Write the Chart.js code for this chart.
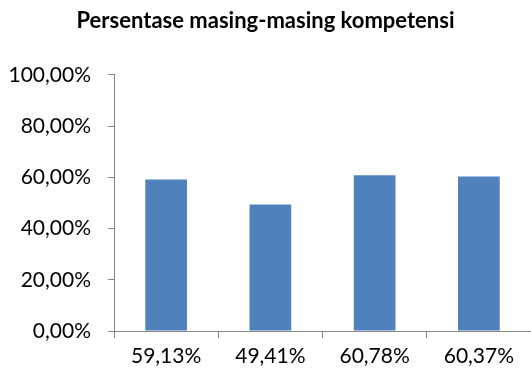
<!DOCTYPE html>
<html>
<head>
<meta charset="utf-8">
<script src="https://cdn.jsdelivr.net/npm/chart.js@4/dist/chart.umd.min.js"></script>
<style>
  html, body { margin: 0; padding: 0; background: #fff; }
  #chart { display: block; }
</style>
</head>
<body>
<canvas id="chart" width="531" height="372"></canvas>
<script>
// chart data
const categories = ['59,13%', '49,41%', '60,78%', '60,37%'];
const values = [59.13, 49.41, 60.78, 60.37];
const yTicks = [0, 20, 40, 60, 80, 100];

const axisColor = '#868686';
const textFont = { family: 'Lato, Liberation Sans, sans-serif', size: 21 };

const ctx = document.getElementById('chart').getContext('2d');
new Chart(ctx, {
  type: 'bar',
  data: {
    labels: categories,
    datasets: [{
      label: 'Persentase',
      data: values,
      backgroundColor: '#4F81BD',
      borderWidth: 0,
      barPercentage: 0.8,
      categoryPercentage: 0.5
    }]
  },
  options: {
    responsive: false,
    animation: false,
    layout: { padding: { top: 0, right: 0, bottom: 0, left: 0 } },
    plugins: {
      legend: { display: false },
      tooltip: { enabled: false },
      title: {
        display: true,
        text: 'Persentase masing-masing kompetensi',
        color: '#000',
        font: { family: 'Lato, Liberation Sans, sans-serif', size: 22, weight: 'bold' },
        padding: { top: 8, bottom: 40.5 }
      }
    },
    scales: {
      x: {
        grid: {
          display: true,
          drawOnChartArea: false,
          drawTicks: true,
          tickLength: 7,
          color: axisColor,
          offset: true
        },
        border: { display: true, color: axisColor, width: 1 },
        ticks: { color: '#000', font: textFont, padding: 6, maxRotation: 0 },
        afterFit: (scale) => { scale.height = 41; }
      },
      y: {
        min: 0,
        max: 100,
        afterBuildTicks: (scale) => { scale.ticks = yTicks.map(v => ({ value: v })); },
        grid: {
          display: true,
          drawOnChartArea: false,
          drawTicks: true,
          tickLength: 6,
          color: axisColor
        },
        border: { display: true, color: axisColor, width: 1 },
        ticks: {
          color: '#000',
          font: textFont,
          padding: 17,
          callback: (v) => v.toFixed(2).replace('.', ',') + '%'
        },
        afterFit: (scale) => { scale.width = 114; }
      }
    }
  }
});
</script>
</body>
</html>
